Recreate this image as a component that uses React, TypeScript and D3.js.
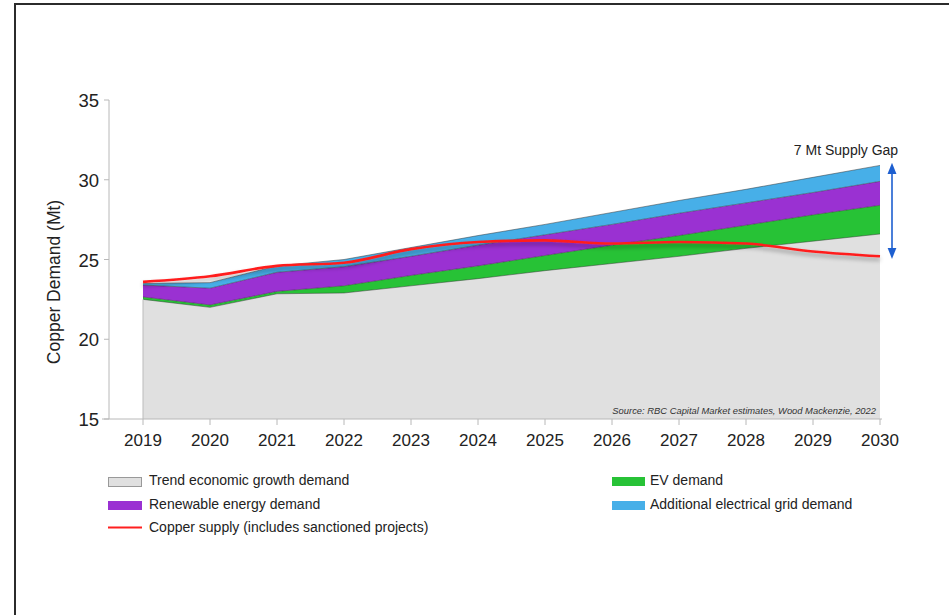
import React from "react";
import * as d3 from "d3";

// Copper demand build-up by component (Mt), 2019–2030
const years = [2019, 2020, 2021, 2022, 2023, 2024, 2025, 2026, 2027, 2028, 2029, 2030];
const trendDemand = [22.5, 22.0, 22.85, 22.9, 23.35, 23.8, 24.3, 24.75, 25.2, 25.7, 26.15, 26.6];
const evDemand = [0.15, 0.15, 0.15, 0.45, 0.65, 0.8, 0.95, 1.15, 1.3, 1.45, 1.65, 1.8];
const renewableDemand = [0.75, 1.05, 1.2, 1.2, 1.2, 1.3, 1.3, 1.3, 1.4, 1.4, 1.4, 1.5];
const gridDemand = [0.1, 0.35, 0.4, 0.45, 0.55, 0.6, 0.65, 0.75, 0.8, 0.85, 0.95, 1.0];
const copperSupply = [23.6, 23.95, 24.6, 24.8, 25.65, 26.1, 26.2, 26.0, 26.1, 26.0, 25.5, 25.2];
const yTicks = [15, 20, 25, 30, 35];
const gapLabel = "7 Mt Supply Gap";
const sourceNote = "Source: RBC Capital Market estimates, Wood Mackenzie, 2022";

const layerKeys = ["trend", "ev", "renewable", "grid"];
const layerColors: Record<string, string> = {
  trend: "#e0e0e0",
  ev: "#27c236",
  renewable: "#9a31d2",
  grid: "#47afe8",
};

const FONT = "'Liberation Sans', Arial, Helvetica, sans-serif";

export default function App() {
  const W = 949;
  const H = 615;
  const x = d3.scaleLinear().domain([2019, 2030]).range([143, 880]);
  const y = d3.scaleLinear().domain([15, 35]).range([419, 100]);

  const rows = years.map((yr, i) => ({
    year: yr,
    trend: trendDemand[i],
    ev: evDemand[i],
    renewable: renewableDemand[i],
    grid: gridDemand[i],
  }));
  const layers = d3.stack<any>().keys(layerKeys)(rows);

  // the bottom layer is filled down to the chart floor (15 Mt)
  const area = d3
    .area<any>()
    .x((d) => x(d.data.year))
    .y0((d) => y(Math.max(15, d[0])))
    .y1((d) => y(d[1]))
    .curve(d3.curveLinear);
  const topLine = d3
    .line<any>()
    .x((d) => x(d.data.year))
    .y((d) => y(d[1]))
    .curve(d3.curveLinear);
  const supplyLine = d3
    .line<number>()
    .x((_, i) => x(years[i]))
    .y((d) => y(d))
    .curve(d3.curveMonotoneX);

  const gapTop = layers[layers.length - 1][years.length - 1][1];
  const gapBottom = copperSupply[copperSupply.length - 1];
  const arrowX = 892;

  return (
    <svg
      width={W}
      height={H}
      style={{ position: "absolute", left: 0, top: 0, display: "block", background: "#fff" }}
      fontFamily={FONT}
    >
      <defs>
        <filter id="lineShadow" x="-5%" y="-50%" width="110%" height="200%">
          <feDropShadow dx="0" dy="3" stdDeviation="2" floodColor="#000" floodOpacity="0.35" />
        </filter>
        <marker id="arrowHead" viewBox="0 0 10 10" refX="5" refY="5" markerWidth="7" markerHeight="8" orient="auto-start-reverse">
          <path d="M0,1 L10,5 L0,9 Z" fill="#1d5fd0" />
        </marker>
      </defs>

      {/* frame */}
      <line x1={14} x2={949} y1={4} y2={4} stroke="#2b2b2b" strokeWidth={2} />
      <line x1={15} x2={15} y1={3} y2={615} stroke="#2b2b2b" strokeWidth={2} />

      {/* stacked demand areas */}
      {layers.map((layer: any) => (
        <path key={layer.key} d={area(layer) as string} fill={layerColors[layer.key]} />
      ))}
      {layers.map((layer: any) => (
        <path
          key={layer.key + "-edge"}
          d={topLine(layer) as string}
          fill="none"
          stroke="#333"
          strokeOpacity={0.7}
          strokeWidth={0.7}
        />
      ))}
      <line x1={x(2019)} x2={x(2019)} y1={y(15)} y2={y(layers[0][0][1])} stroke="#bbb" strokeWidth={1} />

      {/* supply line */}
      <path
        d={supplyLine(copperSupply) as string}
        fill="none"
        stroke="#ff1f1f"
        strokeWidth={2.6}
        filter="url(#lineShadow)"
      />

      {/* axes */}
      <line x1={109} x2={109} y1={y(35)} y2={y(15)} stroke="#b8b8b8" strokeWidth={1} />
      <line x1={102} x2={882} y1={y(15)} y2={y(15)} stroke="#b8b8b8" strokeWidth={1} />
      {yTicks.map((t) => (
        <g key={"y" + t}>
          <line x1={104} x2={109} y1={y(t)} y2={y(t)} stroke="#b8b8b8" />
          <text x={99} y={y(t) + 7} textAnchor="end" fontSize={18.5} fill="#222">
            {t}
          </text>
        </g>
      ))}
      {years.map((yr) => (
        <g key={"x" + yr}>
          <line x1={x(yr)} x2={x(yr)} y1={y(15)} y2={y(15) + 6} stroke="#b8b8b8" />
          <text x={x(yr)} y={446} textAnchor="middle" fontSize={17} fill="#222">
            {yr}
          </text>
        </g>
      ))}
      <text
        transform={`translate(60,282) rotate(-90)`}
        textAnchor="middle"
        fontSize={17.5}
        fill="#222"
      >
        Copper Demand (Mt)
      </text>

      {/* source note */}
      <text x={876} y={414} textAnchor="end" fontSize={9.4} fontStyle="italic" fill="#333">
        {sourceNote}
      </text>

      {/* supply gap annotation */}
      <line
        x1={arrowX}
        x2={arrowX}
        y1={y(gapTop) + 3}
        y2={y(gapBottom) - 3}
        stroke="#1d5fd0"
        strokeWidth={1.6}
        markerStart="url(#arrowHead)"
        markerEnd="url(#arrowHead)"
      />
      <text x={846} y={155} textAnchor="middle" fontSize={14} fill="#222">
        {gapLabel}
      </text>

      {/* legend */}
      <g fontSize={14} fill="#222">
        <rect x={108.5} y={477.5} width={33} height={9} fill={layerColors.trend} stroke="#999" strokeWidth={1} />
        <text x={149} y={484.5}>Trend economic growth demand</text>
        <rect x={108} y={501} width={34} height={9} fill={layerColors.renewable} />
        <text x={149} y={508.5}>Renewable energy demand</text>
        <line x1={108} x2={142} y1={527.5} y2={527.5} stroke="#ff1f1f" strokeWidth={2} />
        <text x={149} y={532}>Copper supply (includes sanctioned projects)</text>
        <rect x={612} y={477} width={33} height={9} fill={layerColors.ev} />
        <text x={650} y={484.5}>EV demand</text>
        <rect x={612} y={501} width={33} height={9} fill={layerColors.grid} />
        <text x={650} y={508.5}>Additional electrical grid demand</text>
      </g>
    </svg>
  );
}
